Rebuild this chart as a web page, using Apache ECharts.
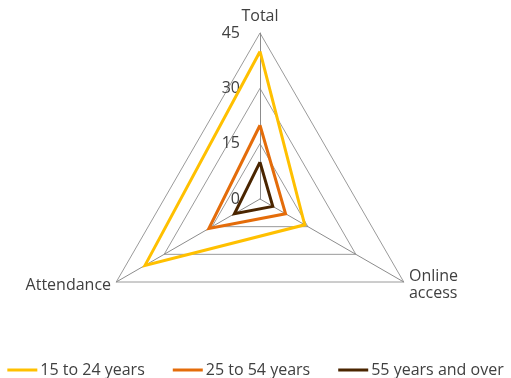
<!DOCTYPE html>
<html>
<head>
<meta charset="utf-8">
<script src="https://cdn.jsdelivr.net/npm/echarts@6/dist/echarts.min.js"></script>
<style>
  html, body { margin: 0; padding: 0; background: #fff; }
  #chart { width: 511px; height: 378px; }
</style>
</head>
<body>
<div id="chart"></div>
<script>
// Radar axes, counter-clockwise from the top
const indicators = ['Total', 'Attendance', 'Online\naccess'];
const axisMax = 45;
const tickLabels = ['0', '15', '30', '45'];

// Values per age group, in indicator order
const seriesNames = ['15 to 24 years', '25 to 54 years', '55 years and over'];
const youth = [40, 36, 14];
const coreAge = [20, 16, 8];
const older = [10, 8, 4];

const colors = ['#FFC000', '#E46C0A', '#4A2500'];
const font = 'Open Sans';
const textColor = '#404040';

const chart = echarts.init(document.getElementById('chart'));

// Only the top axis carries the value labels
const indicatorOpts = indicators.map((name, i) => {
  const opt = { name: name, min: 0, max: axisMax };
  if (i > 0) opt.axisLabel = { show: false };
  return opt;
});

chart.setOption({
  animation: false,
  color: colors,
  textStyle: { fontFamily: font },
  legend: {
    data: seriesNames,
    bottom: -5,
    left: 'center',
    icon: 'rect',
    itemWidth: 30,
    itemHeight: 3,
    itemGap: 28,
    textStyle: { fontFamily: font, fontSize: 16, color: textColor, padding: [0, 0, 0, -2] }
  },
  radar: {
    center: [260, 199],
    radius: 166,
    startAngle: 90,
    shape: 'polygon',
    splitNumber: 3,
    indicator: indicatorOpts,
    nameGap: 6,
    axisName: { color: textColor, fontSize: 16, fontFamily: font, lineHeight: 17 },
    axisLine: { show: true, lineStyle: { color: '#8c8c8c', width: 1 } },
    splitLine: { lineStyle: { color: '#9a9a9a', width: 1 } },
    splitArea: { show: false },
    axisTick: { show: false },
    axisLabel: {
      show: true,
      margin: 20,
      color: textColor,
      fontSize: 16,
      fontFamily: font,
      formatter: (v) => tickLabels[Math.round(v / 15)]
    }
  },
  series: [{
    type: 'radar',
    symbol: 'none',
    lineStyle: { width: 3, join: 'miter' },
    data: [
      { name: seriesNames[0], value: youth, lineStyle: { color: colors[0] }, itemStyle: { color: colors[0] } },
      { name: seriesNames[1], value: coreAge, lineStyle: { color: colors[1] }, itemStyle: { color: colors[1] } },
      { name: seriesNames[2], value: older, lineStyle: { color: colors[2] }, itemStyle: { color: colors[2] } }
    ]
  }]
});
</script>
</body>
</html>
